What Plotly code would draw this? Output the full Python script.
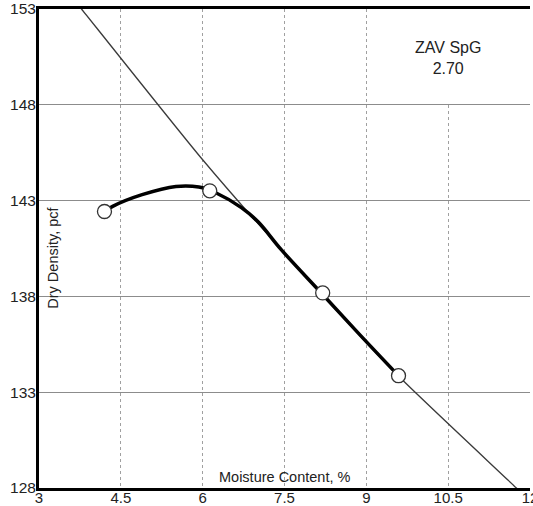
import plotly.graph_objects as go

# Measured points
moisture = [4.20, 6.13, 8.20, 9.59]
density = [142.43, 143.51, 138.18, 133.86]

# Fitted compaction curve
curve_x = [4.20, 4.35, 4.89, 5.51, 5.93, 6.24, 6.71, 7.02, 7.44, 8.20, 8.90, 9.59]
curve_y = [142.43, 142.70, 143.31, 143.74, 143.71, 143.41, 142.63, 141.88, 140.44, 138.10, 135.94, 133.86]

# Zero-air-voids line (SpG 2.70)
zav_x = [3.60, 3.78, 6.00, 7.44, 9.50, 11.75, 12.0]
zav_y = [153.64, 153.0, 145.13, 140.44, 134.09, 128.0, 127.3]

x_ticks = [3, 4.5, 6, 7.5, 9, 10.5, 12]
y_ticks = [128, 133, 138, 143, 148, 153]

FONT = "Liberation Sans, Arial, sans-serif"

fig = go.Figure()
fig.add_trace(go.Scatter(x=zav_x, y=zav_y, mode="lines",
                         line=dict(color="#3a3a3a", width=1.3, shape="spline", smoothing=0.6),
                         hoverinfo="skip", showlegend=False))
fig.add_trace(go.Scatter(x=curve_x, y=curve_y, mode="lines",
                         line=dict(color="#000000", width=3.5, shape="spline", smoothing=1.0),
                         showlegend=False))
fig.add_trace(go.Scatter(x=moisture, y=density, mode="markers",
                         marker=dict(size=14, color="white",
                                     line=dict(color="#333333", width=1.3)),
                         showlegend=False))

fig.add_shape(type="rect", x0=9.04, x1=12, y0=148.08, y1=153,
              xref="x", yref="y", fillcolor="white", line=dict(width=0),
              layer="between")

fig.add_annotation(x=10.5, y=150.45, xref="x", yref="y",
                   text="ZAV SpG<br>2.70", showarrow=False,
                   font=dict(family=FONT, size=16, color="#222"))
fig.add_annotation(x=7.5, y=128.55, xref="x", yref="y",
                   text="Moisture Content, %", showarrow=False,
                   font=dict(family=FONT, size=14.5, color="#222"))
fig.add_annotation(x=3.25, y=140.0, xref="x", yref="y",
                   text="Dry Density, pcf", showarrow=False, textangle=-90,
                   font=dict(family=FONT, size=14.5, color="#222"))

fig.update_layout(
    width=533, height=506,
    margin=dict(l=39, r=3, t=9, b=18, autoexpand=False),
    paper_bgcolor="white", plot_bgcolor="white",
    font=dict(family=FONT, color="#222"),
    xaxis=dict(range=[3, 12], tickvals=x_ticks, ticktext=[str(v) for v in x_ticks],
               showline=True, linecolor="black", linewidth=3, mirror=True,
               showgrid=True, gridcolor="#a0a0a0", gridwidth=1, griddash="dot",
               zeroline=False, ticks="", automargin=False, ticklabelstandoff=-6,
               ticklabeloverflow="allow",
               tickfont=dict(size=15, color="#222")),
    yaxis=dict(range=[128, 153], tickvals=y_ticks,
               showline=True, linecolor="black", linewidth=3, mirror=False,
               showgrid=True, gridcolor="#8c8c8c", gridwidth=1,
               zeroline=False, ticks="", automargin=False, ticklabelstandoff=-3,
               ticklabeloverflow="allow",
               tickfont=dict(size=15.5, color="#222")),
)

# remove the default 8px page margin so the figure fills the window exactly
fig.write_html("out.html",
               config={"displayModeBar": False},
               post_script="document.body.style.margin='0px';document.body.style.overflow='hidden';")
